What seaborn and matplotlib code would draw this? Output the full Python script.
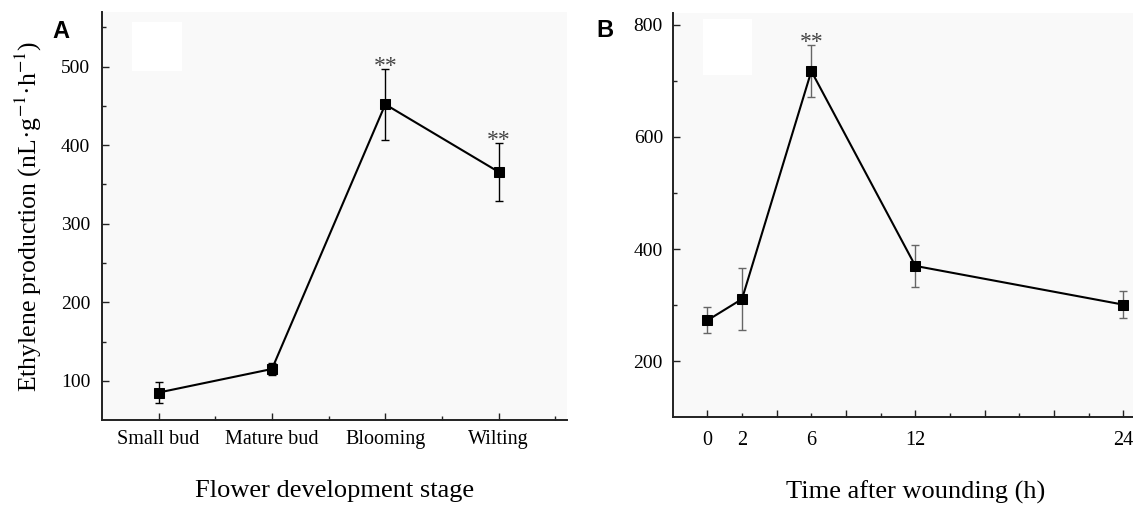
# %%
# libraries
import pandas as pd
import matplotlib.pyplot as plt
import seaborn as sns
from matplotlib.patches import Rectangle

# %%
# panel A: ethylene at each flower stage
stages = ["Small bud", "Mature bud", "Blooming", "Wilting"]
stage_pos = [1, 2, 3, 4]
stage_mean = [85, 115, 452, 366]
stage_sd = [13, 8, 45, 37]
stage_sig = ["", "", "**", "**"]

# panel B: ethylene after wounding
hours = [0, 2, 6, 12, 24]
hour_labels = ["0", "2", "6", "12", "24"]
hour_mean = [273, 311, 717, 370, 301]
hour_sd = [23, 56, 46, 38, 24]
hour_sig = ["", "", "**", "", ""]

df_a = pd.DataFrame({"x": stage_pos, "y": stage_mean, "sd": stage_sd})
df_b = pd.DataFrame({"x": hours, "y": hour_mean, "sd": hour_sd})

# %%
sns.set_theme(style="ticks")
plt.rcParams["font.family"] = ["Liberation Serif", "DejaVu Serif"]
plt.rcParams["mathtext.fontset"] = "stix"
for k in ["text.color", "axes.labelcolor", "xtick.color", "ytick.color"]:
    plt.rcParams[k] = "black"

fig = plt.figure(figsize=(11.33, 5.16), dpi=100)
fig.patch.set_facecolor("white")
ax_a = fig.add_axes([0.090, 0.186, 0.4101, 0.7913])
ax_b = fig.add_axes([0.5937, 0.1909, 0.4284, 0.7833])


def draw_panel(ax, df, sig, ecolor, star_off):
    ax.set_facecolor("#f9f9f9")
    ax.errorbar(df["x"], df["y"], yerr=df["sd"], fmt="none", ecolor=ecolor,
                elinewidth=1.0, capsize=3, capthick=1.0, zorder=2)
    sns.lineplot(data=df, x="x", y="y", ax=ax, color="black", linewidth=1.5,
                 marker="s", markersize=6.5, markeredgecolor="black", zorder=3)
    for x, m, s, t in zip(df["x"], df["y"], df["sd"], sig):
        if t:
            ax.annotate(t, xy=(x, m + s), xytext=(0, star_off), textcoords="offset points",
                        ha="center", va="center", fontsize=17, color="#444444")
    for side in ["top", "right"]:
        ax.spines[side].set_visible(False)
    for side in ["left", "bottom"]:
        ax.spines[side].set_linewidth(1.4)
        ax.spines[side].set_color("#222222")
    ax.tick_params(which="major", direction="in", length=5, width=1.0, color="#222222")
    ax.tick_params(which="minor", direction="in", length=3.2, width=1.0, color="#222222")
    # blank box left over from the legend
    ax.add_patch(Rectangle((0.064, 0.855), 0.108, 0.12, transform=ax.transAxes,
                           facecolor="white", edgecolor="none", zorder=1))


# %%
# panel A
draw_panel(ax_a, df_a, stage_sig, "black", 2)
ax_a.set_xlim(0.5, 4.6)
ax_a.set_ylim(50, 570)
ax_a.set_xticks(stage_pos)
ax_a.set_xticklabels(stages)
ax_a.set_xticks([p + 0.5 for p in stage_pos], minor=True)
ax_a.set_yticks([100, 200, 300, 400, 500])
ax_a.set_yticks([150, 250, 350, 450, 550], minor=True)
ax_a.tick_params(axis="x", which="both", labelsize=14.5, pad=7)
ax_a.tick_params(axis="y", which="both", labelsize=14, pad=8.5)
ax_a.set_xlabel("Flower development stage", fontsize=19)
ax_a.xaxis.set_label_coords(0.5, -0.148)
ax_a.set_ylabel("Ethylene production (nL·g$^{-1}$·h$^{-1}$)", fontsize=18.5)
ax_a.yaxis.set_label_coords(-0.125, 0.5)

# %%
# panel B
draw_panel(ax_b, df_b, hour_sig, "#666666", 2)
ax_b.set_xlim(-2, 26)
ax_b.set_ylim(100, 820)
lab = dict(zip(hours, hour_labels))
major_x = list(range(0, 25, 4))
minor_x = list(range(2, 25, 4))
ax_b.set_xticks(major_x, labels=[lab.get(v, "") for v in major_x])
ax_b.set_xticks(minor_x, labels=[lab.get(v, "") for v in minor_x], minor=True)
ax_b.set_yticks([200, 400, 600, 800])
ax_b.set_yticks([300, 500, 700], minor=True)
ax_b.tick_params(axis="x", which="both", labelsize=14.5, pad=10)
ax_b.tick_params(axis="y", which="both", labelsize=14, pad=7)
ax_b.set_xlabel("Time after wounding (h)", fontsize=19)
ax_b.xaxis.set_label_coords(0.5, -0.157)
ax_b.set_ylabel("")
ax_b.patches[-1].set_bounds(0.063, 0.847, 0.0997, 0.138)

# panel letters
fig.text(0.0534, 0.9258, "A", fontsize=17, fontweight="bold", family="Liberation Sans",
         ha="center", va="baseline")
fig.text(0.534, 0.9283, "B", fontsize=17, fontweight="bold", family="Liberation Sans",
         ha="center", va="baseline")

fig.savefig("out.png", dpi=100, facecolor="white")
